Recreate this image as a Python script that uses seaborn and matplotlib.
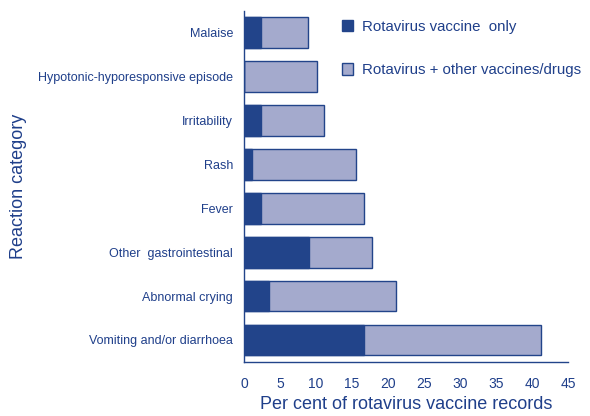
import matplotlib
matplotlib.use("Agg")
import matplotlib.pyplot as plt
from matplotlib.patches import Patch
import numpy as np
import pandas as pd
import seaborn as sns

categories = [
  "Malaise",
  "Hypotonic-hyporesponsive episode",
  "Irritability",
  "Rash",
  "Fever",
  "Other  gastrointestinal",
  "Abnormal crying",
  "Vomiting and/or diarrhoea",
]
vaccine_only = [2.3, 0.0, 2.3, 1.15, 2.3, 9.0, 3.4, 16.7]
total = [8.9, 10.1, 11.1, 15.6, 16.7, 17.8, 21.1, 41.2]
x_ticks = [0, 5, 10, 15, 20, 25, 30, 35, 40, 45]

df = pd.DataFrame({"category": categories, "only": vaccine_only, "total": total})

DARK = "#22448a"
LIGHT = "#a4aacd"
TEXT = "#1f3f8a"

sns.set_style("white")
plt.rcParams["font.family"] = ["Liberation Sans", "DejaVu Sans"]

fig = plt.figure(figsize=(5.9, 4.16), dpi=100)
ax = fig.add_axes([0.4136, 0.13, 0.5494, 0.844])

sns.barplot(data=df, x="total", y="category", orient="h", color=LIGHT, edgecolor=DARK,
            linewidth=1.0, width=0.7, saturation=1, ax=ax)
sns.barplot(data=df, x="only", y="category", orient="h", color=DARK, edgecolor=DARK,
            linewidth=1.0, width=0.7, saturation=1, ax=ax)

ax.set_xlim(0, 45)
ax.set_ylim(7.5, -0.5)
ax.set_xticks(x_ticks)
ax.set_xticklabels([str(t) for t in x_ticks], color=TEXT, fontsize=10)
ax.set_yticks(np.arange(len(categories)))
ax.set_yticklabels(categories, color=TEXT, fontsize=9)
ax.set_yticks(np.arange(-0.5, len(categories), 1), minor=True)
ax.tick_params(axis="y", which="major", length=0, pad=8)
ax.tick_params(axis="y", which="minor", length=5, width=1, color=DARK, direction="inout")
ax.tick_params(axis="x", which="major", length=5, width=1, color=DARK, direction="inout", pad=8)

for side in ["top", "right"]:
  ax.spines[side].set_visible(False)
for side in ["left", "bottom"]:
  ax.spines[side].set_color(DARK)
  ax.spines[side].set_linewidth(1.0)

ax.set_xlabel("Per cent of rotavirus vaccine records", color=TEXT, fontsize=13, labelpad=4)
ax.set_ylabel("Reaction category", color=TEXT, fontsize=13, labelpad=0)
ax.yaxis.set_label_coords(-0.67, 0.5)

handles = [
  Patch(facecolor=DARK, edgecolor=DARK, label="Rotavirus vaccine  only"),
  Patch(facecolor=LIGHT, edgecolor=DARK, label="Rotavirus + other vaccines/drugs"),
]
leg = fig.legend(handles=handles, loc="upper left", bbox_to_anchor=(0.569, 0.967), frameon=False,
                 fontsize=10.8, handlelength=0.75, handleheight=0.8, handletextpad=0.6, labelspacing=1.95,
                 borderaxespad=0)
for t in leg.get_texts():
  t.set_color(TEXT)

fig.savefig("out.png", dpi=100)
